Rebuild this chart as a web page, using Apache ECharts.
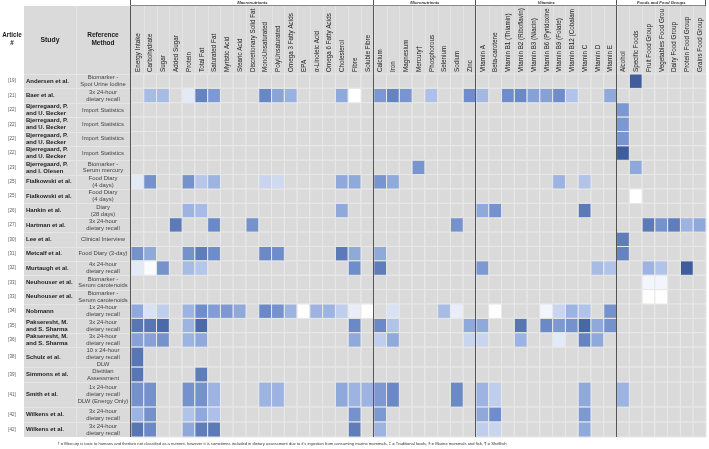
<!DOCTYPE html>
<html><head><meta charset="utf-8">
<script src="https://cdn.jsdelivr.net/npm/echarts@6/dist/echarts.min.js"></script>
<style>html,body{margin:0;padding:0;background:#fff}#c{width:709px;height:449px}</style>
</head><body><div id="c"></div><script>
// ---------------- DATA ----------------
const groups = ["Macronutrients", "Micronutrients", "Vitamins", "Foods and Food Groups"];
const groupSizes = [19, 8, 11, 7];
const columns = ["Energy Intake","Carbohydrate","Sugar","Added Sugar","Protein","Total Fat","Saturated Fat","Myristic Acid","Stearic Acid","Discretionary Solid Fats","MonoUnsaturated","PolyUnsaturated","Omega 3 Fatty Acids","EPA","α-Linoleic Acid","Omega 6 Fatty Acids","Cholesterol","Fibre","Soluble Fibre",
"Calcium","Iron","Magnesium","Mercury†","Phosphorous","Selenium","Sodium","Zinc",
"Vitamin A","Beta-carotene","Vitamin B1 (Thiamin)","Vitamin B2 (Riboflavin)","Vitamin B3 (Niacin)","Vitamin B6 (Pyridoxine)","Vitamin B9 (Folate)","Vitamin B12 (Cobalamin)","Vitamin C","Vitamin D","Vitamin E",
"Alcohol","Specific Foods","Fruit Food Group","Vegetables Food Group","Dairy Food Group","Protein Food Group","Grains Food Group"];
const articles = ["[19]","[21]","[22]","[22]","[22]","[22]","[23]","[25]","[25]","[26]","[27]","[30]","[31]","[32]","[33]","[33]","[34]","[35]","[36]","[38]","[39]","[41]","[42]","[42]"];
const studies = ["Andersen et al.","Baer et al.","Bjerregaard, P.\nand U. Becker","Bjerregaard, P.\nand U. Becker","Bjerregaard, P.\nand U. Becker","Bjerregaard, P.\nand U. Becker","Bjerregaard, P.\nand I. Olesen","Fialkowski et al.","Fialkowski et al.","Hankin et al.","Hartman et al.","Lee et al.","Metcalf et al.","Murtaugh et al.","Neuhouser et al.","Neuhouser et al.","Nobmann","Pakseresht, M.\nand S. Sharma","Pakseresht, M.\nand S. Sharma","Schulz et al.","Simmons et al.","Smith et al.","Wilkens et al.","Wilkens et al."];
const methods = ["Biomarker -\nSpot Urine Iodine","3x 24-hour\ndietary recall","Import Statistics","Import Statistics","Import Statistics","Import Statistics","Biomarker -\nSerum mercury","Food Diary\n(4 days)","Food Diary\n(4 days)","Diary\n(28 days)","3x 24-hour\ndietary recall","Clinical Interview","Food Diary (3-day)","4x 24-hour\ndietary recall","Biomarker -\nSerum carotenoids","Biomarker -\nSerum carotenoids","1x 24-hour\ndietary recall","3x 24-hour\ndietary recall","3x 24-hour\ndietary recall","10 x 24-hour\ndietary recall\nDLW","Dietitian\nAssessment","1x 24-hour\ndietary recall\nDLW (Energy Only)","3x 24-hour\ndietary recall","3x 24-hour\ndietary recall"];
const rowValues = [
 {"Specific Foods":1.0},
 {"Carbohydrate":.45,"Sugar":.45,"Protein":.15,"Total Fat":.8,"Saturated Fat":.67,"MonoUnsaturated":.78,"PolyUnsaturated":.6,"Omega 3 Fatty Acids":.52,"Cholesterol":.57,"Fibre":0,"Calcium":.68,"Iron":.8,"Magnesium":.7,"Phosphorous":.42,"Zinc":.75,"Vitamin A":.47,"Vitamin B1 (Thiamin)":.75,"Vitamin B2 (Riboflavin)":.77,"Vitamin B3 (Niacin)":.62,"Vitamin B6 (Pyridoxine)":.62,"Vitamin B9 (Folate)":.75,"Vitamin B12 (Cobalamin)":.4,"Vitamin E":.57},
 {"Alcohol":.68},
 {"Alcohol":.68},
 {"Alcohol":.7},
 {"Alcohol":1.0},
 {"Mercury†":.7,"Specific Foods":.58},
 {"Energy Intake":.15,"Carbohydrate":.72,"Protein":.72,"Total Fat":.38,"Saturated Fat":.5,"MonoUnsaturated":.28,"PolyUnsaturated":.25,"Cholesterol":.57,"Fibre":.57,"Calcium":.7,"Iron":.57,"Vitamin B9 (Folate)":.5,"Vitamin C":.4},
 {"Specific Foods":0},
 {"Protein":.5,"Total Fat":.45,"Cholesterol":.57,"Vitamin A":.57,"Beta-carotene":.72,"Vitamin C":.85},
 {"Added Sugar":.85,"Saturated Fat":.77,"Discretionary Solid Fats":.72,"Sodium":.72,"Fruit Food Group":.85,"Vegetables Food Group":.72,"Dairy Food Group":.83,"Protein Food Group":.5,"Grains Food Group":.57},
 {"Alcohol":.83},
 {"Energy Intake":.72,"Carbohydrate":.57,"Protein":.72,"Total Fat":.83,"Saturated Fat":.75,"MonoUnsaturated":.77,"PolyUnsaturated":.75,"Cholesterol":.85,"Fibre":.57,"Calcium":.57,"Alcohol":.8},
 {"Energy Intake":.15,"Carbohydrate":.03,"Sugar":.72,"Protein":.45,"Total Fat":.38,"Fibre":.75,"Calcium":.83,"Vitamin A":.67,"Vitamin D":.45,"Vitamin E":.4,"Fruit Food Group":.5,"Vegetables Food Group":.4,"Protein Food Group":1.0},
 {"Fruit Food Group":.07,"Vegetables Food Group":.07},
 {"Fruit Food Group":0,"Vegetables Food Group":0},
 {"Energy Intake":.57,"Carbohydrate":.2,"Sugar":.33,"Protein":.5,"Total Fat":.75,"Saturated Fat":.65,"Myristic Acid":.67,"Stearic Acid":.57,"MonoUnsaturated":.77,"PolyUnsaturated":.72,"Omega 3 Fatty Acids":.5,"EPA":0,"α-Linoleic Acid":.5,"Omega 6 Fatty Acids":.5,"Cholesterol":.33,"Fibre":.12,"Soluble Fibre":0,"Iron":.2,"Selenium":.45,"Sodium":.12,"Beta-carotene":0,"Vitamin B6 (Pyridoxine)":.07,"Vitamin B9 (Folate)":.28,"Vitamin B12 (Cobalamin)":.5,"Vitamin C":.4,"Vitamin E":.72},
 {"Energy Intake":.87,"Carbohydrate":.87,"Sugar":.93,"Protein":.5,"Total Fat":.93,"Fibre":.77,"Calcium":.77,"Iron":.4,"Zinc":.57,"Vitamin A":.57,"Vitamin B2 (Riboflavin)":.87,"Vitamin B6 (Pyridoxine)":.77,"Vitamin B9 (Folate)":.67,"Vitamin B12 (Cobalamin)":.72,"Vitamin C":.95,"Vitamin D":.57,"Vitamin E":.72},
 {"Energy Intake":.62,"Carbohydrate":.62,"Sugar":.72,"Protein":.5,"Total Fat":.57,"Fibre":.57,"Calcium":.33,"Iron":.57,"Zinc":.28,"Vitamin A":.28,"Vitamin B2 (Riboflavin)":.5,"Vitamin B9 (Folate)":.15,"Vitamin C":.8,"Vitamin D":.57},
 {"Energy Intake":.87},
 {"Energy Intake":.87,"Total Fat":.83},
 {"Energy Intake":.72,"Carbohydrate":.72,"Protein":.72,"Total Fat":.72,"Saturated Fat":.5,"MonoUnsaturated":.5,"PolyUnsaturated":.5,"Cholesterol":.57,"Fibre":.5,"Soluble Fibre":.5,"Calcium":.67,"Iron":.77,"Sodium":.77,"Vitamin A":.5,"Beta-carotene":.33,"Vitamin C":.57,"Alcohol":.5},
 {"Energy Intake":.5,"Carbohydrate":.72,"Protein":.4,"Total Fat":.57,"Saturated Fat":.42,"Fibre":.72,"Calcium":.67,"Vitamin A":.57,"Beta-carotene":.75,"Vitamin C":.67},
 {"Energy Intake":.87,"Carbohydrate":.77,"Protein":.57,"Total Fat":.83,"Saturated Fat":.85,"Fibre":.83,"Calcium":.5,"Vitamin A":.33,"Beta-carotene":.28,"Vitamin C":.57}
];
const footnote = "† = Mercury is toxic to humans and therfore not classified as a nutrient, however it is sometimes included in dietary assessment due to it's ingestion from consuming marine mammals, ‡ = Traditional foods, § = Marine mammals and fish, ¶ = Shellfish";

// ---------------- LAYOUT ----------------
const FONT = '"Liberation Sans", Arial, sans-serif';
const tallRows = {19: 1.39, 20: 1.04, 21: 1.74, 22: 1.04, 23: 1.04}; // relative row heights (layout)
const cum = [0];
for (let i = 0; i < studies.length; i++) cum.push(cum[i] + (tallRows[i] || 1));
const total = cum[cum.length - 1];
const nCols = columns.length;

const bgData = [];
for (let r = 0; r < studies.length; r++) for (let c = 0; c < nCols; c++) bgData.push([c, r]);
const cellData = [];
rowValues.forEach((obj, r) => {
  Object.keys(obj).forEach(k => cellData.push([columns.indexOf(k), r, obj[k]]));
});

function cellRect(api, c, r) {
  const p0 = api.coord([c, cum[r]]), p1 = api.coord([c + 1, cum[r + 1]]);
  return {x: p0[0], y: p0[1], width: p1[0] - p0[0], height: p1[1] - p0[1]};
}

const chart = echarts.init(document.getElementById('c'), null, {renderer: 'canvas'});
chart.setOption({
  animation: false,
  grid: {left: 131, right: 3, top: 74, bottom: 12},
  xAxis: {type: 'value', min: 0, max: nCols, show: false},
  yAxis: {type: 'value', min: 0, max: total, inverse: true, show: false},
  visualMap: {type: 'continuous', show: false, min: 0, max: 1, dimension: 2, seriesIndex: 2,
    inRange: {color: ['#ffffff', '#cfdaf1', '#9db4e2', '#6f8dca', '#3f5c9c']}},
  series: [
    { // under-chrome: header and left backgrounds
      type: 'custom', z: 1, silent: true, data: [[0, 0]],
      renderItem: (params, api) => {
        const top = api.coord([0, 0])[1], bot = api.coord([0, total])[1];
        const right = api.coord([nCols, 0])[0];
        const ch = [];
        ch.push({type: 'rect', shape: {x: 24, y: 6, width: right - 24, height: top - 6}, style: {fill: '#dadada'}});
        ch.push({type: 'rect', shape: {x: 24, y: top, width: 107, height: bot - top}, style: {fill: '#dadada'}});
        for (let i = 1; i < nCols; i++) {
          const x = Math.round(api.coord([i, 0])[0]) + 0.5;
          ch.push({type: 'line', shape: {x1: x, y1: 6, x2: x, y2: top}, style: {stroke: '#e4e4e4', lineWidth: 1}});
        }
        for (let r = 1; r < studies.length; r++) {
          const y = Math.round(api.coord([0, cum[r]])[1]) + 0.5;
          ch.push({type: 'line', shape: {x1: 24, y1: y, x2: 130, y2: y}, style: {stroke: '#e6e6e6', lineWidth: 1}});
        }
        ch.push({type: 'line', shape: {x1: 24, y1: top + 0.5, x2: 130, y2: top + 0.5}, style: {stroke: '#e6e6e6', lineWidth: 1}});
        ch.push({type: 'line', shape: {x1: 76.5, y1: 6, x2: 76.5, y2: bot}, style: {stroke: '#e4e4e4', lineWidth: 1}});
        return {type: 'group', children: ch};
      }
    },
    { // empty cells
      type: 'custom', z: 2, silent: true, data: bgData,
      renderItem: (params, api) => ({type: 'rect', shape: cellRect(api, api.value(0), api.value(1)),
        style: {fill: '#dadada', stroke: '#e8e8e8', lineWidth: 1}})
    },
    { // coloured cells
      type: 'custom', z: 3, data: cellData,
      renderItem: (params, api) => ({type: 'rect', shape: cellRect(api, api.value(0), api.value(1)),
        style: {fill: api.visual('color'), stroke: '#e8e8e8', lineWidth: 1}})
    },
    { // overlay: texts and separators
      type: 'custom', z: 4, silent: true, data: [[0, 0]],
      renderItem: (params, api) => {
        const ch = [];
        const X = i => api.coord([i, 0])[0];
        const Y = v => api.coord([0, v])[1];
        const top = Y(0), bot = Y(total);
        // column labels
        columns.forEach((name, i) => {
          ch.push({type: 'text', x: (X(i) + X(i + 1)) / 2 + 0.5, y: top - 2, rotation: Math.PI / 2,
            style: {text: name, align: 'left', verticalAlign: 'middle', fontSize: 6.3, fontFamily: FONT, fill: '#1a1a1a',
              width: top - 9, overflow: 'truncate', ellipsis: ''}});
        });
        // group separators and labels
        let start = 0;
        groups.forEach((g, gi) => {
          const end = start + groupSizes[gi];
          ch.push({type: 'text', x: (X(start) + X(end)) / 2, y: 3.2,
            style: {text: g, align: 'center', verticalAlign: 'middle', fontSize: 4.2, fontStyle: 'italic', fontWeight: 'bold', fontFamily: FONT, fill: '#333'}});
          start = end;
        });
        let b = 0;
        [0].concat(groupSizes).forEach(s => {
          b += s;
          if (b >= nCols) return;
          const x = Math.round(X(b)) - 0.5;
          ch.push({type: 'line', shape: {x1: x, y1: 0, x2: x, y2: bot}, style: {stroke: '#555', lineWidth: 1}});
        });
        const xr = Math.round(X(nCols)) - 0.5;
        ch.push({type: 'line', shape: {x1: X(0) - 1, y1: 5.5, x2: xr, y2: 5.5}, style: {stroke: '#8a8a8a', lineWidth: 1}});
        ch.push({type: 'line', shape: {x1: xr, y1: 0, x2: xr, y2: 6}, style: {stroke: '#555', lineWidth: 1}});
        // left headers
        const hb = {fontWeight: 'bold', fontFamily: FONT, fill: '#1a1a1a', align: 'center', verticalAlign: 'middle'};
        ch.push({type: 'text', x: 12, y: 39.5, style: Object.assign({text: 'Article\n#', fontSize: 6.3, lineHeight: 8}, hb)});
        ch.push({type: 'text', x: 50, y: 40, style: Object.assign({text: 'Study', fontSize: 6.8}, hb)});
        ch.push({type: 'text', x: 103, y: 39.5, style: Object.assign({text: 'Reference\nMethod', fontSize: 6.5, lineHeight: 8}, hb)});
        // row labels
        studies.forEach((s, r) => {
          const mid = (Y(cum[r]) + Y(cum[r + 1])) / 2;
          ch.push({type: 'text', x: 12, y: mid, style: {text: articles[r], align: 'center', verticalAlign: 'middle', fontSize: 4.5, fontFamily: FONT, fill: '#555'}});
          ch.push({type: 'text', x: 26, y: mid, style: {text: s, align: 'left', verticalAlign: 'middle', fontSize: 6, lineHeight: 7, fontWeight: 'bold', fontFamily: FONT, fill: '#222'}});
          ch.push({type: 'text', x: 103, y: mid, style: {text: methods[r], align: 'center', verticalAlign: 'middle', fontSize: 5.9, lineHeight: 6.8, fontFamily: FONT, fill: '#444'}});
        });
        // footnote
        ch.push({type: 'text', x: 282, y: 444, style: {text: footnote, align: 'center', verticalAlign: 'middle', fontSize: 4.1, fontFamily: FONT, fill: '#333'}});
        return {type: 'group', children: ch};
      }
    }
  ]
});
</script></body></html>
